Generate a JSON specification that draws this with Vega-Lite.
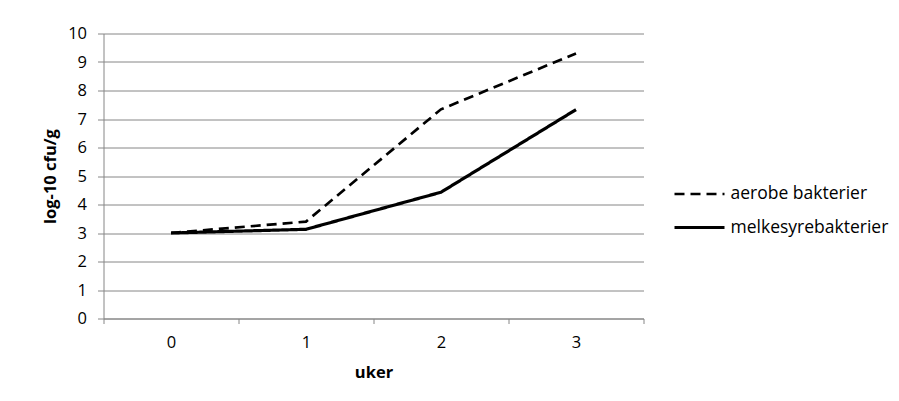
{
  "$schema": "https://vega.github.io/schema/vega-lite/v6.json",
  "autosize": {"type": "none"},
  "padding": {"left": 103.5, "top": 33.5, "right": 255.5, "bottom": 82.5},
  "width": 540,
  "height": 285,
  "background": "white",
  "config": {
    "view": {"stroke": null},
    "font": "Open Sans",
    "axis": {
      "labelFont": "Open Sans",
      "labelFontSize": 16.5,
      "labelColor": "#000000",
      "titleFont": "Open Sans",
      "titleFontSize": 16.5,
      "titleFontWeight": "bold",
      "titleColor": "#000000",
      "domainColor": "#868686",
      "tickColor": "#868686",
      "gridColor": "#868686",
      "domainWidth": 1,
      "tickWidth": 1,
      "gridWidth": 1
    },
    "legend": {
      "labelFont": "Open Sans",
      "labelFontSize": 17.5,
      "labelColor": "#000000"
    }
  },
  "data": {
    "values": [
      {"uke": "0", "serie": "aerobe bakterier", "v": 3.0},
      {"uke": "1", "serie": "aerobe bakterier", "v": 3.4},
      {"uke": "2", "serie": "aerobe bakterier", "v": 7.34},
      {"uke": "3", "serie": "aerobe bakterier", "v": 9.3},
      {"uke": "0", "serie": "melkesyrebakterier", "v": 3.0},
      {"uke": "1", "serie": "melkesyrebakterier", "v": 3.13},
      {"uke": "2", "serie": "melkesyrebakterier", "v": 4.43},
      {"uke": "3", "serie": "melkesyrebakterier", "v": 7.33}
    ]
  },
  "mark": {"type": "line", "color": "#000000", "strokeCap": "butt", "strokeJoin": "miter"},
  "encoding": {
    "x": {
      "field": "uke",
      "type": "ordinal",
      "bandPosition": 0.5,
      "scale": {"type": "band", "paddingInner": 0, "paddingOuter": 0},
      "axis": {
        "title": "uker",
        "labelAngle": 0,
        "tickBand": "extent",
        "tickSize": 5,
        "labelPadding": 11,
        "titlePadding": 13,
        "grid": false
      }
    },
    "y": {
      "field": "v",
      "type": "quantitative",
      "scale": {"domain": [0, 10], "nice": false, "zero": true},
      "axis": {
        "title": "log-10 cfu/g",
        "values": [0, 1, 2, 3, 4, 5, 6, 7, 8, 9, 10],
        "tickSize": 6,
        "labelPadding": 11,
        "titlePadding": 9,
        "grid": true
      }
    },
    "strokeDash": {
      "field": "serie",
      "type": "nominal",
      "scale": {"domain": ["aerobe bakterier", "melkesyrebakterier"], "range": [[10, 6], [1, 0]]},
      "legend": {
        "title": null,
        "orient": "none",
        "legendX": 584,
        "legendY": 149,
        "padding": 0,
        "symbolType": "M-2.5,0H2.5",
        "symbolSize": 400,
        "symbolStrokeWidth": 3,
        "symbolStrokeColor": "#000000",
        "labelOffset": 19,
        "rowPadding": 13
      }
    },
    "strokeWidth": {
      "field": "serie",
      "type": "nominal",
      "scale": {"domain": ["aerobe bakterier", "melkesyrebakterier"], "range": [2.7, 3.2]},
      "legend": null
    }
  }
}
